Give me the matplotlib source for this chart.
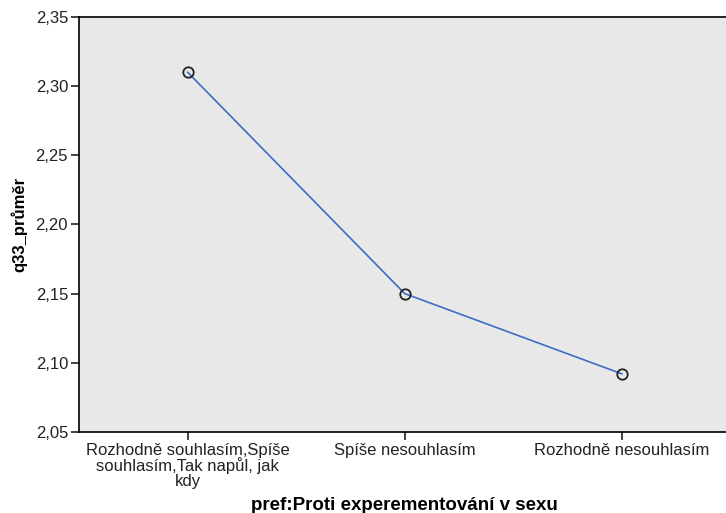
import matplotlib
matplotlib.use("Agg")
import matplotlib.pyplot as plt
from matplotlib.ticker import FuncFormatter

# data
categories = ["Rozhodně souhlasím,Spíše\nsouhlasím,Tak napůl, jak\nkdy",
              "Spíše nesouhlasím",
              "Rozhodně nesouhlasím"]
means = [2.310, 2.150, 2.092]
yticks = [2.05, 2.10, 2.15, 2.20, 2.25, 2.30, 2.35]

plt.rcParams['font.family'] = ['Liberation Sans', 'DejaVu Sans']

fig = plt.figure(figsize=(7.26, 5.13), dpi=100)
ax = fig.add_axes([0.109, 0.158, 0.897, 0.809])
ax.set_facecolor("#e8e8e8")

x = list(range(len(categories)))
ax.plot(x, means, color="#3d6cc4", lw=1.2, zorder=2)
ax.plot(x, means, ls="none", marker="o", ms=7.5, mfc="none", mec="#222222", mew=1.3, zorder=3)

ax.set_xlim(-0.5, 2.5)
ax.set_ylim(2.05, 2.35)
ax.set_xticks(x)
ax.set_xticklabels(categories, fontsize=12, color="#222222", linespacing=0.95)
ax.set_yticks(yticks)
ax.yaxis.set_major_formatter(FuncFormatter(lambda v, p: ("%.2f" % v).replace(".", ",")))
ax.tick_params(axis="y", labelsize=12, length=6, width=1.2, pad=2, colors="#222222")
ax.tick_params(axis="x", length=6, width=1.2, pad=2, colors="#222222")

for s in ["left", "bottom", "top"]:
    ax.spines[s].set_linewidth(1.2)
ax.spines["right"].set_visible(False)

ax.set_ylabel("q33_průměr", fontsize=12, fontweight="bold", labelpad=6)
ax.set_xlabel("pref:Proti experementování v sexu", fontsize=13.5, fontweight="bold", labelpad=6)

fig.savefig("out.png", dpi=100)
